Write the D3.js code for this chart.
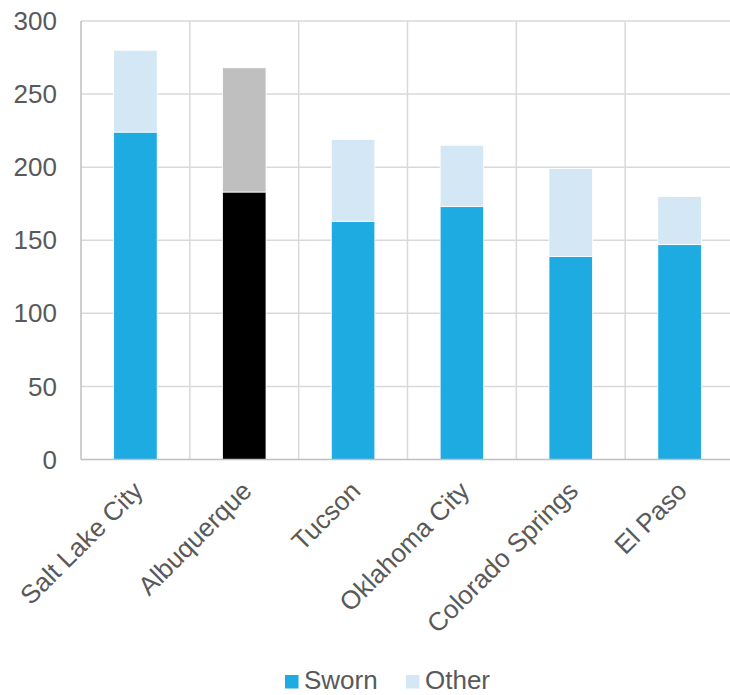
<!DOCTYPE html>
<html><head><meta charset="utf-8">
<script src="https://cdn.jsdelivr.net/npm/d3@7"></script>
<style>body{margin:0;background:#fff;} text{font-family:"Liberation Sans",Arial,sans-serif;}</style>
</head><body><svg id="c" width="730" height="695"></svg>
<script>
const categories = ["Salt Lake City","Albuquerque","Tucson","Oklahoma City","Colorado Springs","El Paso"];
const sworn = [224,183,163,173,139,147];
const other = [56,85,56,42,60,33];
const yTicks = [0,50,100,150,200,250,300];
const seriesNames = ["Sworn","Other"];
const highlight = "Albuquerque";

const svg = d3.select("#c");
const pL = 81, pR = 734, pT = 21, pB = 459.5;
const x = d3.scaleBand().domain(categories).range([pL,pR]).paddingInner(0).paddingOuter(0);
const y = d3.scaleLinear().domain([0,300]).range([pB,pT]);
const colors = {Sworn:"#1eabe2", Other:"#d3e7f5"};
const hiColors = {Sworn:"#000000", Other:"#bfbfbf"};
const fs = 26;

// horizontal gridlines
svg.append("g").selectAll("line").data(yTicks.filter(d=>d>0)).join("line")
  .attr("x1",pL).attr("x2",pR).attr("y1",d=>y(d)).attr("y2",d=>y(d))
  .attr("stroke","#d9d9d9").attr("stroke-width",1.5);
// vertical gridlines
svg.append("g").selectAll("line").data(categories.slice(1)).join("line")
  .attr("x1",d=>x(d)).attr("x2",d=>x(d)).attr("y1",pT).attr("y2",pB)
  .attr("stroke","#d9d9d9").attr("stroke-width",1.5);

const rows = categories.map((c,i)=>({cat:c,Sworn:sworn[i],Other:other[i]}));
const stack = d3.stack().keys(seriesNames)(rows);
const bw = x.bandwidth()*0.4;
stack.forEach(s=>{
  svg.append("g").selectAll("rect").data(s).join("rect")
    .attr("x",d=>x(d.data.cat)+x.bandwidth()/2-bw/2)
    .attr("width",bw)
    .attr("y",d=>y(d[1]))
    .attr("height",d=>y(d[0])-y(d[1]))
    .attr("fill",d=>d.data.cat===highlight?hiColors[s.key]:colors[s.key])
    .attr("stroke","#fff").attr("stroke-width",0.8);
});

// left axis line and bottom axis
svg.append("line").attr("x1",pL).attr("x2",pL).attr("y1",pT).attr("y2",pB)
  .attr("stroke","#bfbfbf").attr("stroke-width",1.5);
svg.append("line").attr("x1",pL).attr("x2",pR).attr("y1",pB).attr("y2",pB)
  .attr("stroke","#bfbfbf").attr("stroke-width",1.5);

// y tick labels
svg.append("g").selectAll("text").data(yTicks).join("text")
  .attr("x",57).attr("y",d=>y(d)).attr("dy","0.35em")
  .attr("text-anchor","end").attr("fill","#595959").attr("font-size",fs)
  .text(d=>d);

// x labels
svg.append("g").selectAll("text").data(categories).join("text")
  .attr("text-anchor","end").attr("fill","#595959").attr("font-size",fs)
  .attr("transform",d=>`translate(${x(d)+x.bandwidth()/2+9},${pB+33}) rotate(-45)`)
  .text(d=>d);

// legend
const lg = svg.append("g");
const lx = [285, 406];
seriesNames.forEach((n,i)=>{
  lg.append("rect").attr("x",lx[i]).attr("y",675).attr("width",13.5).attr("height",13.5).attr("fill",colors[n]);
  lg.append("text").attr("x",lx[i]+19).attr("y",688.5).attr("fill","#595959").attr("font-size",fs).text(n);
});
</script></body></html>
